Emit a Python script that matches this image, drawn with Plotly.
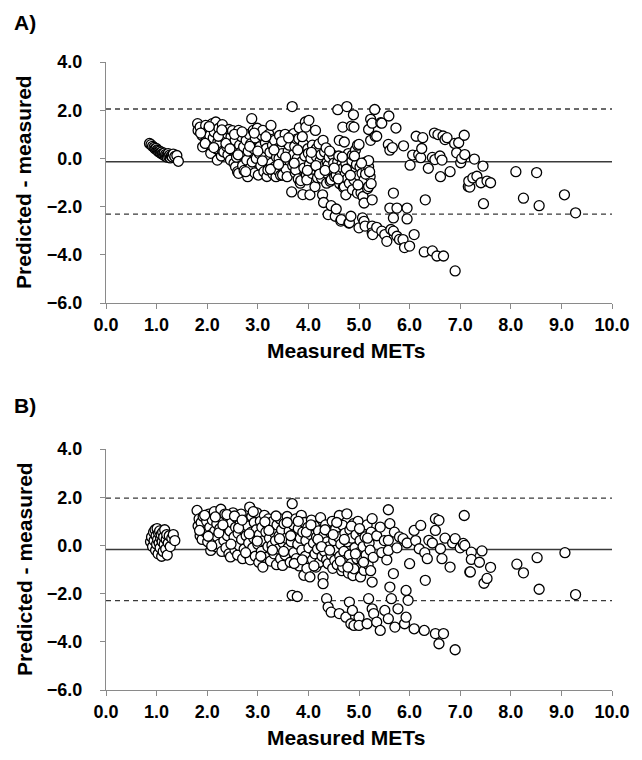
import plotly.graph_objects as go

# ---------------- Panel A data (Measured METs, Predicted - measured) ----------------
a_measured = [
    0.86,0.89,0.92,0.95,0.97,0.99,1.01,1.03,1.04,1.06,1.07,1.08,1.10,1.11,1.12,1.14,1.15,1.17,1.18,1.20,1.21,1.23,1.24,1.26,1.27,1.29,1.31,1.33,1.36,1.40,1.43,
    1.81,1.82,1.86,1.90,1.91,1.93,1.97,1.98,2.01,2.03,2.05,2.07,2.08,2.10,2.12,2.14,2.17,2.18,2.20,2.21,2.23,2.25,2.26,2.28,2.30,2.31,2.33,2.35,2.36,2.38,2.39,2.41,2.43,2.44,2.46,2.47,2.49,2.50,2.52,2.53,2.55,2.56,2.58,2.60,2.62,2.62,2.64,2.66,2.68,2.70,2.72,2.73,2.75,2.77,2.78,2.80,2.81,2.83,2.85,2.86,2.88,2.89,2.91,2.92,2.94,2.95,2.97,2.99,3.01,3.03,3.04,3.06,3.08,3.10,3.12,3.13,3.15,3.17,3.18,3.20,3.20,3.22,3.24,3.26,3.27,3.29,3.30,3.31,3.33,3.34,3.36,3.37,3.39,3.40,3.42,3.43,3.45,3.46,3.48,3.49,3.50,
    3.52,3.54,3.56,3.58,3.60,3.62,3.63,3.65,3.67,3.68,3.69,3.70,3.71,3.73,3.74,3.75,3.77,3.78,3.80,3.81,3.82,3.84,3.85,3.86,3.87,3.89,3.90,3.91,3.93,3.94,3.95,3.96,3.97,3.99,4.00,4.01,4.02,4.03,4.05,4.07,4.08,4.10,4.12,4.13,4.14,4.16,4.16,4.18,4.20,4.21,4.23,4.25,4.26,4.28,4.29,4.30,4.31,
    4.32,4.34,4.35,4.36,4.37,4.39,4.39,4.41,4.43,4.45,4.45,4.47,4.48,4.50,4.52,4.53,4.55,4.55,4.57,4.58,4.58,4.60,4.61,4.62,4.63,4.64,4.65,4.66,4.68,4.68,4.69,4.71,4.71,4.72,4.73,4.74,4.74,4.76,4.77,4.79,4.80,4.81,4.81,4.82,4.84,4.85,4.86,4.87,4.87,4.89,4.90,4.90,4.92,4.93,4.95,4.97,4.97,4.99,5.00,5.00,5.02,5.04,5.06,5.07,5.08,5.09,5.10,5.10,5.10,5.11,5.12,5.14,5.16,5.17,5.19,5.19,5.19,5.19,5.22,5.23,5.23,5.24,5.26,5.26,5.26,5.26,5.27,5.31,5.32,
    1.87,1.96,2.04,2.13,2.22,2.29,2.37,2.45,2.54,2.61,2.69,2.76,2.84,2.93,3.00,3.09,3.16,3.25,3.32,3.41,3.47,3.55,3.61,3.72,3.79,3.88,3.98,4.06,4.15,4.22,4.33,4.42,4.51,4.59,4.67,4.75,4.83,4.91,4.98,5.05,5.13,5.21,
    5.35,5.35,5.43,5.45,5.45,5.51,5.55,5.58,5.59,5.61,5.61,5.63,5.66,5.68,5.68,5.68,5.73,5.75,5.75,5.80,5.87,5.88,5.90,5.95,5.95,6.00,6.01,6.06,6.09,6.13,6.18,6.22,6.24,6.26,6.29,6.31,6.37,6.45,6.45,6.49,6.50,6.54,6.56,6.60,6.61,6.64,6.66,6.67,6.70,6.74,6.80,6.89,6.90,6.93,6.97,7.01,7.03,7.08,7.09,7.16,7.19,7.17,7.25,7.28,7.33,7.41,7.45,7.46,7.53,7.60,
    8.10,8.25,8.51,8.56,9.06,9.28,
]
a_difference = [
    0.62,0.57,0.50,0.46,0.40,0.42,0.35,0.33,0.28,0.30,0.24,0.22,0.26,0.18,0.20,0.15,0.22,0.10,0.17,0.12,0.05,0.20,0.08,0.14,0.02,0.10,0.06,0.18,0.08,0.12,-0.12,
    1.44,1.16,1.30,0.95,0.48,1.10,1.37,0.78,0.75,1.20,0.95,0.21,0.55,1.44,0.85,1.10,1.51,0.40,-0.07,0.68,1.25,0.64,0.95,0.10,1.40,0.30,0.27,1.05,0.80,0.50,1.03,0.15,1.20,0.65,-0.07,0.90,0.35,1.15,0.41,-0.20,0.75,-0.35,0.05,-0.55,1.16,-0.62,0.55,0.25,0.90,-0.30,0.48,-0.50,0.10,0.75,-0.07,-0.76,0.30,1.00,-0.40,0.60,1.65,-0.15,1.16,0.40,-0.60,0.85,0.00,1.25,-0.69,0.20,0.48,-0.30,0.95,1.16,-0.55,0.10,0.65,0.41,-0.75,-0.07,-0.48,1.00,0.25,1.37,-0.20,0.55,-0.65,0.80,0.75,-0.35,-0.76,0.05,0.40,-0.50,0.00,0.95,-0.70,0.41,0.20,-0.69,-0.20,
    0.70,1.00,-0.45,-0.76,0.30,0.55,-0.10,0.90,-1.39,2.15,-0.30,0.15,1.03,0.50,-0.60,-0.48,0.80,0.00,-0.85,0.82,1.27,-1.03,-0.92,0.35,-0.14,-1.50,0.60,-0.40,0.10,1.51,1.30,-0.70,-0.89,0.40,0.21,1.58,-0.25,-1.51,0.00,-0.62,0.55,-0.45,0.30,-1.17,1.16,0.07,0.41,-0.80,-0.41,0.60,-0.10,0.15,-0.82,-1.51,0.75,-1.83,-0.30,
    0.27,-0.60,0.44,-1.03,-0.15,-0.28,-2.33,0.05,-0.95,-0.89,-1.96,-0.50,0.14,-0.20,-0.75,-2.40,-0.69,-2.10,-0.35,-0.14,2.02,0.10,0.75,-1.05,-0.55,-2.60,-2.54,-0.25,1.30,-0.41,-1.20,0.68,-1.17,0.00,-0.65,-1.51,-0.21,2.15,-0.85,0.20,-2.68,-1.03,-2.67,-0.40,-2.40,1.34,-0.10,0.14,-1.30,1.81,1.30,-0.89,-0.55,0.35,-0.25,0.55,-1.44,-0.70,0.58,-2.88,-0.35,-1.43,-0.62,-2.47,-1.58,-1.05,-0.89,-1.85,-2.61,-0.18,-2.81,-0.45,-0.14,-1.25,-0.35,-0.09,-1.17,1.20,-0.75,0.75,1.62,-1.05,-1.72,-2.81,-3.09,1.46,-3.16,2.03,0.92,
    1.05,0.62,1.32,0.45,0.92,1.18,0.62,0.40,1.00,0.15,1.10,-0.55,0.50,1.05,0.30,-0.10,0.90,-0.45,0.35,-0.25,0.70,0.05,0.85,-0.20,0.35,0.90,-0.50,0.25,-0.30,-0.65,-0.50,0.30,-0.40,-0.85,0.05,-0.45,-0.70,0.10,-1.10,-0.20,-0.65,-0.55,
    0.92,-2.86,1.48,1.46,-3.02,-3.16,-3.44,0.58,1.76,0.34,-2.06,-2.95,0.45,-1.44,-2.47,-3.02,1.26,-2.06,-3.23,-3.36,-3.37,0.52,-3.70,-2.06,-2.51,-3.64,-0.28,0.14,-3.16,0.92,0.16,0.03,0.41,0.86,-3.88,-1.72,-0.41,0.04,-3.84,1.05,-0.05,-4.05,0.99,0.10,-0.76,-0.07,0.93,-4.05,0.78,0.86,-0.55,0.62,-4.67,0.23,0.65,-0.18,0.00,0.96,0.16,-1.17,-1.19,-0.94,-0.81,-0.03,-0.74,-1.01,-0.32,-1.88,-0.94,-1.01,
    -0.55,-1.65,-0.59,-1.96,-1.51,-2.26,
]

# ---------------- Panel B data ----------------
b_measured = [
    0.88,0.90,0.92,0.94,0.95,0.97,0.98,0.99,1.00,1.01,1.02,1.03,1.04,1.05,1.06,1.07,1.08,1.09,1.10,1.11,1.12,1.13,1.14,1.15,1.16,1.18,1.19,1.20,1.21,1.23,1.25,1.27,1.30,1.33,1.36,
    1.80,1.82,1.84,1.86,1.88,1.90,1.92,1.94,1.97,1.99,2.01,2.03,2.05,2.07,2.08,2.10,2.12,2.14,2.15,2.17,2.19,2.20,2.22,2.24,2.25,2.27,2.29,2.30,2.32,2.33,2.35,2.37,2.38,2.40,2.42,2.43,2.45,2.46,2.48,2.50,2.51,2.53,2.55,2.56,2.58,2.60,2.61,2.63,2.65,2.67,2.68,2.70,2.72,2.73,2.75,2.77,2.79,2.80,2.82,2.84,2.85,2.87,2.88,2.90,2.92,2.93,2.95,2.97,2.98,3.00,3.02,3.03,3.05,3.07,3.08,3.10,3.11,3.13,3.15,3.16,3.18,3.20,3.21,3.23,3.25,3.27,3.28,3.30,3.32,3.33,3.35,3.37,3.38,3.40,3.42,3.44,3.45,3.47,3.49,3.50,
    3.52,3.54,3.56,3.58,3.60,3.62,3.64,3.66,3.68,3.68,3.70,3.71,3.73,3.75,3.76,3.78,3.79,3.80,3.82,3.84,3.86,3.87,3.89,3.91,3.92,3.94,3.95,3.97,3.99,4.01,4.03,4.04,4.06,4.08,4.10,4.12,4.13,4.15,4.16,4.18,4.20,4.22,4.24,4.25,4.27,4.29,4.29,4.30,4.32,4.34,4.36,4.37,4.39,4.41,4.43,4.45,4.47,4.48,4.50,4.52,4.54,4.55,4.57,4.59,4.61,4.62,4.64,4.66,4.68,4.68,4.70,4.72,4.74,4.76,4.77,4.79,4.81,4.82,4.84,4.86,4.88,4.89,4.90,4.92,4.94,4.96,4.98,5.00,5.02,5.03,5.05,5.06,5.08,5.10,5.12,5.14,5.16,5.18,5.20,5.22,5.24,5.26,5.26,5.28,
    1.85,1.95,2.02,2.09,2.16,2.23,2.31,2.39,2.47,2.54,2.62,2.69,2.76,2.83,2.91,2.99,3.06,3.14,3.22,3.29,3.36,3.43,3.51,3.58,3.65,3.72,3.80,3.88,3.96,4.05,4.11,4.19,4.26,4.33,4.42,4.49,4.56,4.63,4.71,4.78,4.85,4.93,5.01,5.09,5.17,5.23,
    4.36,4.39,4.45,4.61,4.74,4.81,4.84,4.87,4.90,5.00,5.00,5.16,5.19,5.26,5.29,5.35,5.42,5.51,5.58,5.64,5.71,5.77,5.90,5.93,5.97,6.09,6.29,6.51,6.58,6.67,6.90,
    5.61,5.68,5.93,6.31,6.00,
    5.35,5.42,5.45,5.50,5.55,5.58,5.58,5.58,5.61,5.70,5.75,5.80,5.87,5.95,6.09,6.12,6.19,6.22,6.30,6.35,6.38,6.45,6.51,6.51,6.58,6.61,6.64,6.70,6.80,6.85,6.90,7.00,7.06,7.08,7.09,7.19,7.20,7.22,7.22,7.38,7.43,7.47,7.53,7.60,
    8.12,8.25,8.52,8.56,9.07,9.28,
]
b_difference = [
    0.15,0.35,-0.05,0.55,0.20,0.65,-0.20,0.40,0.05,0.70,0.25,-0.35,0.50,0.10,0.60,-0.10,0.30,0.45,-0.45,0.15,0.55,-0.25,0.35,0.05,0.65,-0.15,0.25,0.45,-0.40,0.10,0.40,-0.05,0.30,0.45,0.20,
    1.45,0.80,1.10,0.40,0.95,0.25,1.20,0.60,0.55,1.00,0.15,1.30,0.75,-0.21,0.45,1.05,0.20,1.40,0.60,-0.05,0.90,0.35,1.20,0.05,0.70,1.50,-0.25,0.50,1.00,0.20,1.30,-0.10,0.80,0.40,1.10,-0.35,0.60,-0.48,0.95,0.10,1.35,0.35,-0.20,0.75,1.15,-0.40,0.50,0.00,0.90,1.30,0.25,-0.55,0.65,-0.15,1.05,0.40,-0.35,0.80,0.10,1.59,-0.60,0.55,1.20,-0.10,0.30,0.95,-0.45,0.65,1.35,0.05,-0.70,0.45,1.00,-0.25,0.75,-0.90,0.20,1.25,-0.50,0.55,0.90,-0.05,1.10,0.30,-0.65,0.70,0.00,1.00,-0.35,0.50,0.20,-0.80,0.85,-0.15,0.40,1.10,-0.55,0.65,-0.83,0.10,
    0.90,-0.40,0.30,1.20,-0.10,0.60,-0.70,0.15,1.73,-2.07,0.85,-0.30,0.45,1.10,-0.55,-2.12,0.05,0.70,-0.85,0.30,1.25,-0.20,0.55,-1.24,0.95,-0.45,0.20,-0.95,0.75,-0.10,-1.31,0.45,1.05,-0.60,0.10,0.80,-0.35,-0.90,0.35,-0.15,0.60,-0.70,1.15,0.00,-0.45,-1.31,-1.59,0.40,-0.25,0.85,-0.60,0.15,-0.76,-0.05,0.55,-0.40,1.00,-0.95,0.20,-0.62,0.70,-0.20,-0.80,0.35,1.24,-0.45,0.05,-1.05,0.83,-0.90,-0.25,0.50,-0.60,1.31,0.15,-1.15,-0.40,0.65,-0.76,0.30,-1.25,0.90,-0.97,-0.10,0.45,-0.55,1.00,-0.30,0.20,-1.31,0.60,-0.62,-0.05,-1.04,0.35,-0.40,0.85,-0.80,0.10,-0.20,0.55,1.11,-1.52,-0.50,
    0.62,1.25,0.38,-0.02,1.18,0.52,0.85,1.28,0.05,1.22,0.72,1.05,-0.30,0.48,1.40,0.18,-0.45,0.98,0.62,-0.20,1.22,0.28,-0.25,0.95,0.40,-0.75,1.00,-0.60,0.55,0.85,-0.85,0.25,-0.05,0.65,-0.20,0.45,0.95,-0.65,0.25,-0.90,0.80,-0.35,0.70,-0.70,0.30,-1.05,
    -2.21,-2.56,-2.77,-2.83,-2.98,-2.35,-3.25,-2.70,-3.32,-2.98,-3.32,-3.25,-2.21,-2.63,-2.83,-3.18,-3.53,-2.70,-3.04,-2.21,-3.39,-2.63,-3.25,-2.98,-2.28,-3.46,-3.53,-3.66,-4.08,-3.66,-4.33,
    -1.73,-1.17,-1.87,-1.45,-0.76,
    0.40,0.76,-0.30,0.20,-0.60,1.48,0.21,-0.21,0.90,0.55,-0.10,0.35,0.28,0.10,0.62,0.20,-0.14,0.83,-0.30,-0.55,0.21,0.10,1.11,0.62,1.04,-0.14,-0.55,0.30,-0.90,0.10,0.28,-0.10,0.08,1.24,0.00,-1.10,-1.10,-0.28,-0.58,-0.70,-0.23,-1.57,-1.37,-0.91,
    -0.78,-1.14,-0.51,-1.82,-0.30,-2.04,
]

# Bias and limits of agreement
a_lines = {"mean": -0.14, "upper": 2.05, "lower": -2.31}
b_lines = {"mean": -0.17, "upper": 1.96, "lower": -2.29}

y_ticks = [4, 2, 0, -2, -4, -6]
x_ticks = [0, 1, 2, 3, 4, 5, 6, 7, 8, 9, 10]

FONT = "Arial, 'Liberation Sans', Helvetica, sans-serif"
AXIS_COLOR = "#8a8a8a"

fig = go.Figure()

marker = dict(size=10, color="white", line=dict(color="black", width=1.3))
fig.add_trace(go.Scatter(x=a_measured, y=a_difference, mode="markers",
                         marker=marker, xaxis="x", yaxis="y", showlegend=False))
fig.add_trace(go.Scatter(x=b_measured, y=b_difference, mode="markers",
                         marker=marker, xaxis="x2", yaxis="y2", showlegend=False))

shapes = []
for xref, yref, lines in (("x domain", "y", a_lines), ("x2 domain", "y2", b_lines)):
    shapes.append(dict(type="line", xref=xref, yref=yref, x0=0, x1=1,
                       y0=lines["mean"], y1=lines["mean"], layer="below",
                       line=dict(color="#3a3a3a", width=1.5)))
    for key in ("upper", "lower"):
        shapes.append(dict(type="line", xref=xref, yref=yref, x0=0, x1=1,
                           y0=lines[key], y1=lines[key], layer="below",
                           line=dict(color="#3a3a3a", width=1.3, dash="5px,4px")))

tick_font = dict(family=FONT, size=18, color="black", weight="bold")
xaxis_common = dict(range=[0, 10], tickvals=x_ticks, tickformat=".1f",
                    showgrid=False, zeroline=False, showline=True,
                    linecolor=AXIS_COLOR, linewidth=1.3, ticks="outside",
                    ticklen=5, tickcolor=AXIS_COLOR, tickwidth=1.3,
                    tickfont=tick_font)
yaxis_common = dict(range=[-6, 4], tickvals=y_ticks, tickformat=".1f",
                    showgrid=False, zeroline=False, showline=True,
                    linecolor=AXIS_COLOR, linewidth=1.3, ticks="outside",
                    ticklen=5, tickcolor=AXIS_COLOR, tickwidth=1.3,
                    ticklabelstandoff=14, tickfont=tick_font)

top_a = 1.0
bot_a = (690 - 303) / 628
top_b = (690 - 449) / 628

fig.update_layout(
    width=642, height=760,
    margin=dict(l=106, r=18, t=62, b=70),
    paper_bgcolor="white", plot_bgcolor="white",
    xaxis=dict(xaxis_common, domain=[0, 1], anchor="y"),
    yaxis=dict(yaxis_common, domain=[bot_a, top_a], anchor="x"),
    xaxis2=dict(xaxis_common, domain=[0, 1], anchor="y2"),
    yaxis2=dict(yaxis_common, domain=[0, top_b], anchor="x2"),
    shapes=shapes,
)

PLOT_W = 642 - 106 - 18

def px_x(px):
    return (px - 106) / PLOT_W

def px_y(py):
    return (690 - py) / 628

annots = [
    dict(text="A)", x=px_x(10), y=px_y(22), xanchor="left", yanchor="middle"),
    dict(text="B)", x=px_x(10), y=px_y(405), xanchor="left", yanchor="middle"),
    dict(text="Measured METs", x=px_x(352), y=px_y(350), xanchor="center", yanchor="middle"),
    dict(text="Measured METs", x=px_x(352), y=px_y(737), xanchor="center", yanchor="middle"),
    dict(text="Predicted - measured", x=px_x(22), y=px_y(182), xanchor="center",
         yanchor="middle", textangle=-90),
    dict(text="Predicted - measured", x=px_x(22), y=px_y(569), xanchor="center",
         yanchor="middle", textangle=-90),
]
for a in annots:
    fig.add_annotation(xref="paper", yref="paper", showarrow=False,
                       font=dict(family=FONT, size=21, color="black", weight="bold"), **a)

fig.write_html("out.html", config={"displayModeBar": False},
               post_script="document.body.style.margin='0';document.body.style.overflow='hidden';")
